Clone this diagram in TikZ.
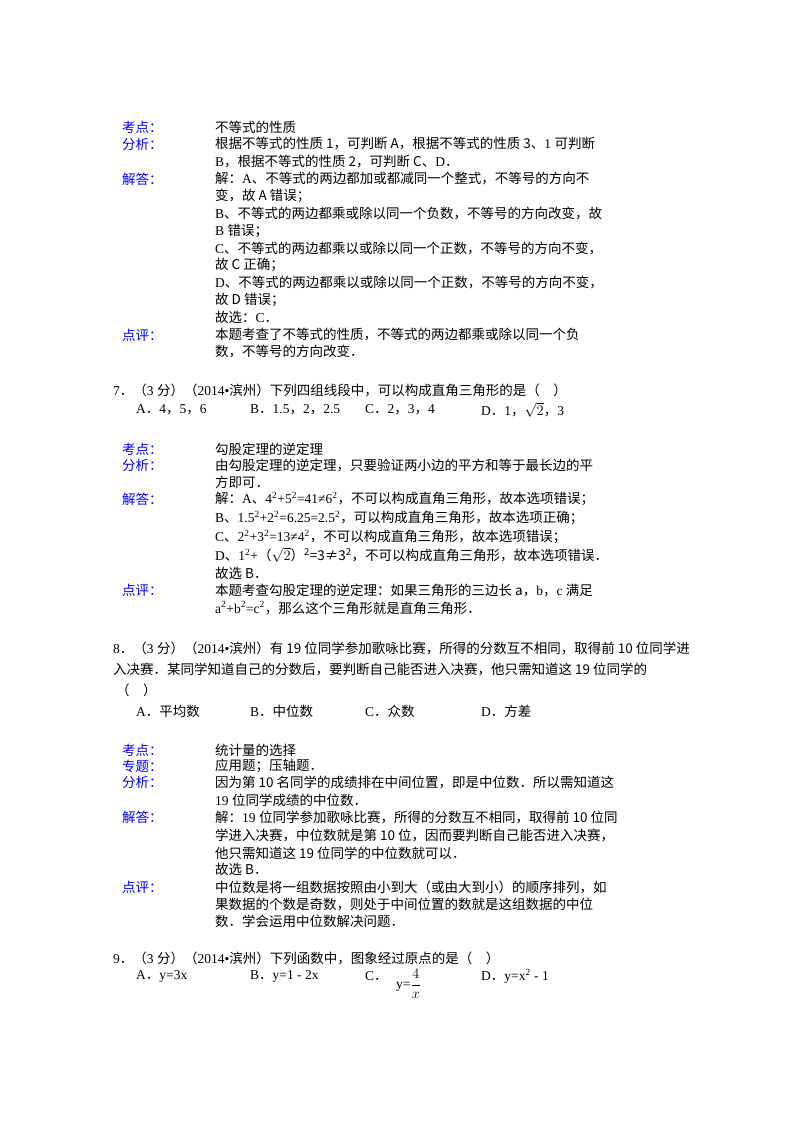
\documentclass[tikz,border=0pt]{standalone}
\usepackage{fontspec}
\setmainfont{Liberation Serif}
\newfontfamily\cjk{Noto Sans CJK SC}
\XeTeXinterchartokenstate=1
\newXeTeXintercharclass\cjkcls
\newcount\cc
\cc="4E00 \loop\XeTeXcharclass\cc=\cjkcls \advance\cc by 1 \ifnum\cc<"A000 \repeat
\cc="3000 \loop\XeTeXcharclass\cc=\cjkcls \advance\cc by 1 \ifnum\cc<"3040 \repeat
\cc="FF00 \loop\XeTeXcharclass\cc=\cjkcls \advance\cc by 1 \ifnum\cc<"FF60 \repeat
\XeTeXinterchartoks 0 \cjkcls = {\cjk}
\XeTeXinterchartoks 4095 \cjkcls = {\cjk}
\XeTeXinterchartoks \cjkcls 0 = {\rmfamily}
\newcommand{\sq}[1]{\textsuperscript{#1}}
\begin{document}
\begin{tikzpicture}[x=1pt,y=-1pt,
  t/.style={anchor=west,inner sep=0pt,font=\fontsize{13.5}{16}\selectfont},
  lab/.style={t,text=blue}]
\useasboundingbox (0,0) rectangle (800,1132);
\fill[white] (0,0) rectangle (800,1132);
% Q6 解析
\node[lab] (k1) at (122,127) {考点：};
\node[t] (k1t) at (215,127) {不等式的性质};
\node[lab] (f1) at (122,144) {分析：};
\node[t] (f1a) at (215,144) {根据不等式的性质 1，可判断 A，根据不等式的性质 3、1 可判断};
\node[t] (f1b) at (215,162) {B，根据不等式的性质 2，可判断 C、D．};
\node[lab] (j1) at (122,179) {解答：};
\node[t] (j1a) at (215,179) {解：A、不等式的两边都加或都减同一个整式，不等号的方向不};
\node[t] (j1b) at (215,196) {变，故 A 错误；};
\node[t] (j1c) at (215,213) {B、不等式的两边都乘或除以同一个负数，不等号的方向改变，故};
\node[t] (j1d) at (215,231) {B 错误；};
\node[t] (j1e) at (215,248) {C、不等式的两边都乘以或除以同一个正数，不等号的方向不变，};
\node[t] (j1f) at (215,265) {故 C 正确；};
\node[t] (j1g) at (215,282) {D、不等式的两边都乘以或除以同一个正数，不等号的方向不变，};
\node[t] (j1h) at (215,300) {故 D 错误；};
\node[t] (j1i) at (215,317) {故选：C．};
\node[lab] (d1) at (122,335) {点评：};
\node[t] (d1a) at (215,335) {本题考查了不等式的性质，不等式的两边都乘或除以同一个负};
\node[t] (d1b) at (215,351) {数，不等号的方向改变．};
% Q7
\node[t] (q7) at (113,390) {7．（3 分）（2014•滨州）下列四组线段中，可以构成直角三角形的是（\quad ）};
\node[t] (q7a) at (136,410) {A．4，5，6};
\node[t] (q7b) at (250,410) {B．1.5，2，2.5};
\node[t] (q7c) at (365,410) {C．2，3，4};
\node[t] (q7d) at (481,410) {D．1，$\sqrt{2}$，3};
\node[lab] (k2) at (122,449) {考点：};
\node[t] (k2t) at (215,449) {勾股定理的逆定理};
\node[lab] (f2) at (122,465) {分析：};
\node[t] (f2a) at (215,465) {由勾股定理的逆定理，只要验证两小边的平方和等于最长边的平};
\node[t] (f2b) at (215,482) {方即可．};
\node[lab] (j2) at (122,499) {解答：};
\node[t] (j2a) at (215,499) {解：A、4\sq{2}+5\sq{2}=41≠6\sq{2}，不可以构成直角三角形，故本选项错误；};
\node[t] (j2b) at (215,518) {B、1.5\sq{2}+2\sq{2}=6.25=2.5\sq{2}，可以构成直角三角形，故本选项正确；};
\node[t] (j2c) at (215,537) {C、2\sq{2}+3\sq{2}=13≠4\sq{2}，不可以构成直角三角形，故本选项错误；};
\node[t] (j2d) at (215,555) {D、1\sq{2}+（$\sqrt{2}$）\sq{2}=3≠3\sq{2}，不可以构成直角三角形，故本选项错误．};
\node[t] (j2e) at (215,573) {故选 B．};
\node[lab] (d2) at (122,590) {点评：};
\node[t] (d2a) at (215,590) {本题考查勾股定理的逆定理：如果三角形的三边长 a，b，c 满足};
\node[t] (d2b) at (215,608) {a\sq{2}+b\sq{2}=c\sq{2}，那么这个三角形就是直角三角形．};
% Q8
\node[t] (q8a) at (113,648) {8．（3 分）（2014•滨州）有 19 位同学参加歌咏比赛，所得的分数互不相同，取得前 10 位同学进};
\node[t] (q8b) at (113,669) {入决赛．某同学知道自己的分数后，要判断自己能否进入决赛，他只需知道这 19 位同学的};
\node[t] (q8c) at (116,690) {（\quad ）};
\node[t] (q8o1) at (136,711) {A．平均数};
\node[t] (q8o2) at (250,711) {B．中位数};
\node[t] (q8o3) at (365,711) {C．众数};
\node[t] (q8o4) at (481,711) {D．方差};
\node[lab] (k3) at (122,750) {考点：};
\node[t] (k3t) at (215,750) {统计量的选择};
\node[lab] (z3) at (122,766) {专题：};
\node[t] (z3t) at (215,766) {应用题；压轴题．};
\node[lab] (f3) at (122,782) {分析：};
\node[t] (f3a) at (215,782) {因为第 10 名同学的成绩排在中间位置，即是中位数．所以需知道这};
\node[t] (f3b) at (215,800) {19 位同学成绩的中位数．};
\node[lab] (j3) at (122,817) {解答：};
\node[t] (j3a) at (215,817) {解：19 位同学参加歌咏比赛，所得的分数互不相同，取得前 10 位同};
\node[t] (j3b) at (215,835) {学进入决赛，中位数就是第 10 位，因而要判断自己能否进入决赛，};
\node[t] (j3c) at (215,853) {他只需知道这 19 位同学的中位数就可以．};
\node[t] (j3d) at (215,869) {故选 B．};
\node[lab] (d3) at (122,887) {点评：};
\node[t] (d3a) at (215,887) {中位数是将一组数据按照由小到大（或由大到小）的顺序排列，如};
\node[t] (d3b) at (215,904) {果数据的个数是奇数，则处于中间位置的数就是这组数据的中位};
\node[t] (d3c) at (215,921) {数．学会运用中位数解决问题．};
% Q9
\node[t] (q9) at (113,958) {9．（3 分）（2014•滨州）下列函数中，图象经过原点的是（\quad ）};
\node[t] (q9a) at (136,976) {A．y=3x};
\node[t] (q9b) at (250,976) {B．y=1 - 2x};
\node[t] (q9c) at (365,976) {C．};
\node[t] (q9cf) at (396,984) {y=$\displaystyle\frac{4}{x}$};
\node[t] (q9d) at (481,976) {D．y=x\sq{2} - 1};
\end{tikzpicture}
\end{document}
